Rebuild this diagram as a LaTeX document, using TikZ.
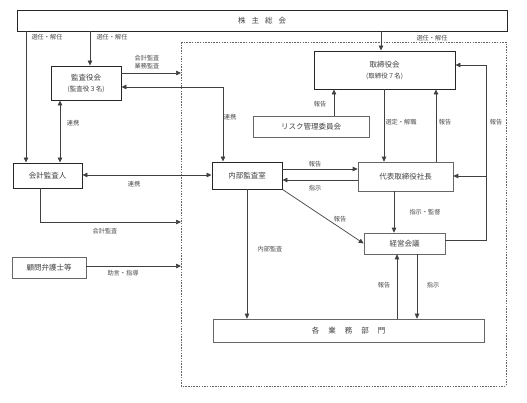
\documentclass[tikz,border=0pt]{standalone}
\usepackage{fontspec}
\newfontfamily\jp{Noto Sans CJK JP}
\usetikzlibrary{arrows.meta}
\begin{document}
\begin{tikzpicture}[x=1pt,y=-1pt,
  every node/.style={font=\jp\fontsize{7.5}{9}\selectfont, text=black!75, inner sep=0pt},
  thickbox/.style={draw=black!85, line width=0.95pt, align=center},
  thinbox/.style={draw=black!60, line width=0.6pt, align=center},
  lbl/.style={font=\jp\fontsize{6.2}{7.5}\selectfont, text=black!70},
  conn/.style={draw=black!75, line width=0.7pt},
  arr/.style={conn, -{Triangle[length=5pt,width=4.5pt]}},
  darr/.style={conn, {Triangle[length=5pt,width=4.5pt]}-{Triangle[length=5pt,width=4.5pt]}},
  boundary/.style={draw=black!60, line width=0.5pt, dash pattern=on 1.5pt off 1.2pt}]
\useasboundingbox (0,0) rectangle (527,402);
\fill[white] (0,0) rectangle (527,402);

% dashed area
\draw[boundary] (181,42) rectangle (506,386);

% boxes
\node[thickbox, minimum width=490pt, minimum height=21pt] (kabu) at (262,20.5) {株\hspace{6pt}主\hspace{6pt}総\hspace{6pt}会};
\node[thickbox, minimum width=70pt, minimum height=34pt] (kansa) at (86,83) {監査役会\\[2pt]{\fontsize{6.5}{8}\selectfont (監査役３名)}};
\node[thickbox, minimum width=69pt, minimum height=25pt] (kaikei) at (47.5,175.5) {会計監査人};
\node[thickbox, minimum width=70pt, minimum height=27pt] (naibu) at (247,175.5) {内部監査室};
\node[thickbox, minimum width=141pt, minimum height=38pt] (tori) at (384.5,70) {取締役会\\[2pt]{\fontsize{6.5}{8}\selectfont (取締役７名)}};
\node[thinbox, minimum width=116pt, minimum height=21pt] (risk) at (311,126.5) {リスク管理委員会};
\node[thinbox, minimum width=95pt, minimum height=29pt] (shacho) at (405.5,176.5) {代表取締役社長};
\node[thinbox, minimum width=81pt, minimum height=21pt] (keiei) at (404.5,243.5) {経営会議};
\node[thinbox, minimum width=271pt, minimum height=23pt] (gyomu) at (348.5,330.5) {各\hspace{9pt}業\hspace{9pt}務\hspace{9pt}部\hspace{9pt}門};
\node[thinbox, minimum width=74pt, minimum height=21pt] (komon) at (49,267.5) {顧問弁護士等};

% helper coordinates
\coordinate (x26) at (26,0);
\coordinate (x90) at (90,0);
\coordinate (x381) at (381,0);
\coordinate (x60) at (60,0);
\coordinate (x40) at (40,0);
\coordinate (x334) at (334,0);
\coordinate (x384) at (384,0);
\coordinate (x436) at (436,0);
\coordinate (x394) at (394,0);
\coordinate (x247) at (247,0);
\coordinate (x397) at (397,0);
\coordinate (x417) at (417,0);
\coordinate (y87) at (0,87);
\coordinate (y175) at (0,175);
\coordinate (y169) at (0,169);
\coordinate (y180) at (0,180);
\coordinate (y240) at (0,240);
\coordinate (b73) at (181,73);
\coordinate (b222) at (181,222);
\coordinate (c40) at (40,222);
\coordinate (b266) at (181,266);
\coordinate (c223) at (223,87);
\coordinate (r240) at (486,240);
\coordinate (r65) at (486,65);
\coordinate (r176) at (486,176);

% connectors
\draw[arr] (kabu.south -| x26) -- (kaikei.north -| x26);
\draw[arr] (kabu.south -| x90) -- (kansa.north -| x90);
\draw[arr] (kabu.south -| x381) -- (tori.north -| x381);
\draw[arr] (kansa.east |- b73) -- (b73);
\draw[darr] (kansa.east |- y87) -- (c223) -- (naibu.north -| c223);
\draw[darr] (kansa.south -| x60) -- (kaikei.north -| x60);
\draw[darr] (kaikei.east |- y175) -- (naibu.west |- y175);
\draw[arr] (kaikei.south -| x40) -- (c40) -- (b222);
\draw[arr] (komon.east |- b266) -- (b266);
\draw[arr] (risk.north -| x334) -- (tori.south -| x334);
\draw[arr] (tori.south -| x384) -- (shacho.north -| x384);
\draw[arr] (shacho.north -| x436) -- (tori.south -| x436);
\draw[arr] (keiei.east |- y240) -- (r240) -- (r65) -- (tori.east |- r65);
\draw[arr] (r176) -- (shacho.east |- r176);
\draw[arr] (naibu.east |- y169) -- (shacho.west |- y169);
\draw[arr] (shacho.west |- y180) -- (naibu.east |- y180);
\draw[arr] (naibu.south east) -- (keiei.west);
\draw[arr] (shacho.south -| x394) -- (keiei.north -| x394);
\draw[arr] (naibu.south -| x247) -- (gyomu.north -| x247);
\draw[arr] (gyomu.north -| x397) -- (keiei.south -| x397);
\draw[arr] (keiei.south -| x417) -- (gyomu.north -| x417);

% labels
\node[lbl] (l1) at (47,37) {選任・解任};
\node[lbl] (l2) at (112,37) {選任・解任};
\node[lbl] (l3) at (432,38) {選任・解任};
\node[lbl, align=center] (l4) at (147,62) {会計監査\\業務監査};
\node[lbl] (l5) at (230,117) {連携};
\node[lbl] (l6) at (73,123) {連携};
\node[lbl] (l7) at (134,184) {連携};
\node[lbl] (l8) at (105,231) {会計監査};
\node[lbl] (l9) at (123,273) {助言・指導};
\node[lbl] (l10) at (320,104) {報告};
\node[lbl] (l11) at (401,122) {選定・解職};
\node[lbl] (l12) at (445,122) {報告};
\node[lbl] (l13) at (496,122) {報告};
\node[lbl] (l14) at (315,164) {報告};
\node[lbl] (l15) at (315,188) {指示};
\node[lbl] (l16) at (340,219) {報告};
\node[lbl] (l17) at (425,212) {指示・監督};
\node[lbl] (l18) at (270,249) {内部監査};
\node[lbl] (l19) at (384,285) {報告};
\node[lbl] (l20) at (433,285) {指示};
\end{tikzpicture}
\end{document}
